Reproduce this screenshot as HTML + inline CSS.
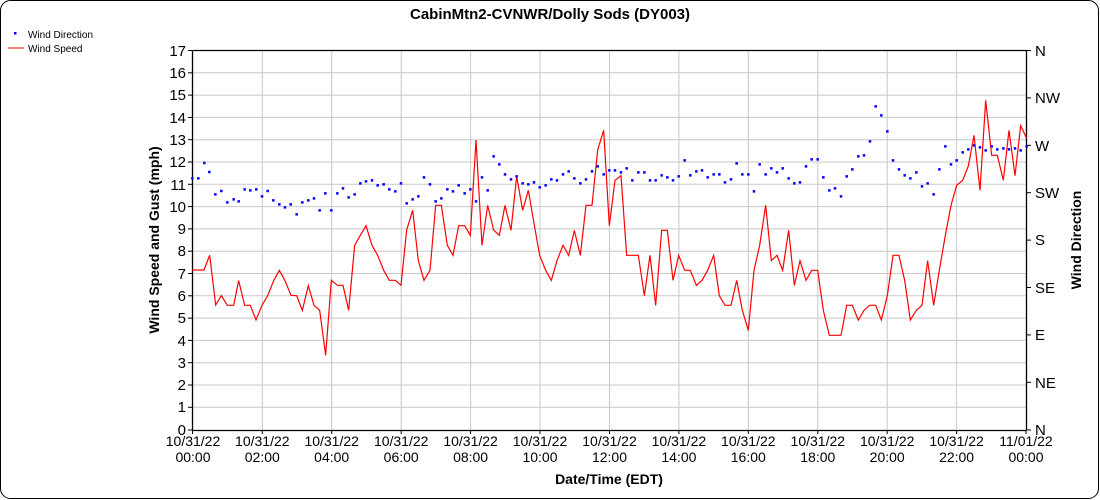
<!DOCTYPE html>
<html><head><meta charset="utf-8"><style>
html,body{margin:0;padding:0;background:#fff;}
svg{display:block;font-family:"Liberation Sans",Arial,sans-serif;}
</style></head><body>
<svg width="1100" height="500" viewBox="0 0 1100 500" xmlns="http://www.w3.org/2000/svg">
<rect x="0.5" y="0.5" width="1098" height="498" rx="10" ry="10" fill="#fff" stroke="#000" stroke-width="1"/>
<text x="550" y="19" font-size="15" font-weight="bold" text-anchor="middle">CabinMtn2-CVNWR/Dolly Sods (DY003)</text>
<!-- legend -->
<rect x="14" y="32" width="2.5" height="2.5" fill="#00f"/>
<text x="28" y="38" font-size="10">Wind Direction</text>
<line x1="8" y1="48" x2="24" y2="48" stroke="#f00" stroke-width="1"/>
<text x="28" y="52" font-size="10">Wind Speed</text>
<!-- grid -->
<g stroke="#c8c8c8" stroke-width="1">
<line x1="192" y1="72.8" x2="1026" y2="72.8"/><line x1="192" y1="95.1" x2="1026" y2="95.1"/><line x1="192" y1="117.4" x2="1026" y2="117.4"/><line x1="192" y1="139.7" x2="1026" y2="139.7"/><line x1="192" y1="162" x2="1026" y2="162"/><line x1="192" y1="184.3" x2="1026" y2="184.3"/><line x1="192" y1="206.6" x2="1026" y2="206.6"/><line x1="192" y1="228.9" x2="1026" y2="228.9"/><line x1="192" y1="251.2" x2="1026" y2="251.2"/><line x1="192" y1="273.5" x2="1026" y2="273.5"/><line x1="192" y1="295.8" x2="1026" y2="295.8"/><line x1="192" y1="318.1" x2="1026" y2="318.1"/><line x1="192" y1="340.4" x2="1026" y2="340.4"/><line x1="192" y1="362.7" x2="1026" y2="362.7"/><line x1="192" y1="385" x2="1026" y2="385"/><line x1="192" y1="407.3" x2="1026" y2="407.3"/>
<line x1="262.3" y1="50.5" x2="262.3" y2="430"/><line x1="331.7" y1="50.5" x2="331.7" y2="430"/><line x1="401.2" y1="50.5" x2="401.2" y2="430"/><line x1="470.6" y1="50.5" x2="470.6" y2="430"/><line x1="540" y1="50.5" x2="540" y2="430"/><line x1="609.5" y1="50.5" x2="609.5" y2="430"/><line x1="678.9" y1="50.5" x2="678.9" y2="430"/><line x1="748.3" y1="50.5" x2="748.3" y2="430"/><line x1="817.8" y1="50.5" x2="817.8" y2="430"/><line x1="887.2" y1="50.5" x2="887.2" y2="430"/><line x1="956.6" y1="50.5" x2="956.6" y2="430"/>
</g>
<!-- axes -->
<g stroke="#000" stroke-width="1.3" fill="none">
<line x1="192.5" y1="50.5" x2="1026.5" y2="50.5"/>
<line x1="192.5" y1="50.5" x2="192.5" y2="430.5"/>
<line x1="1026.5" y1="50.5" x2="1026.5" y2="430.5"/>
<line x1="192.5" y1="430.5" x2="1026.5" y2="430.5"/>
</g>
<g stroke="#000" stroke-width="1">
<line x1="188" y1="50.5" x2="192" y2="50.5"/><line x1="188" y1="72.8" x2="192" y2="72.8"/><line x1="188" y1="95.1" x2="192" y2="95.1"/><line x1="188" y1="117.4" x2="192" y2="117.4"/><line x1="188" y1="139.7" x2="192" y2="139.7"/><line x1="188" y1="162" x2="192" y2="162"/><line x1="188" y1="184.3" x2="192" y2="184.3"/><line x1="188" y1="206.6" x2="192" y2="206.6"/><line x1="188" y1="228.9" x2="192" y2="228.9"/><line x1="188" y1="251.2" x2="192" y2="251.2"/><line x1="188" y1="273.5" x2="192" y2="273.5"/><line x1="188" y1="295.8" x2="192" y2="295.8"/><line x1="188" y1="318.1" x2="192" y2="318.1"/><line x1="188" y1="340.4" x2="192" y2="340.4"/><line x1="188" y1="362.7" x2="192" y2="362.7"/><line x1="188" y1="385" x2="192" y2="385"/><line x1="188" y1="407.3" x2="192" y2="407.3"/><line x1="188" y1="430" x2="192" y2="430"/>
<line x1="1026" y1="50.5" x2="1031" y2="50.5"/><line x1="1026" y1="97.9" x2="1031" y2="97.9"/><line x1="1026" y1="145.3" x2="1031" y2="145.3"/><line x1="1026" y1="192.7" x2="1031" y2="192.7"/><line x1="1026" y1="240.1" x2="1031" y2="240.1"/><line x1="1026" y1="287.5" x2="1031" y2="287.5"/><line x1="1026" y1="334.9" x2="1031" y2="334.9"/><line x1="1026" y1="382.3" x2="1031" y2="382.3"/><line x1="1026" y1="430" x2="1031" y2="430"/>
<line x1="192.5" y1="430" x2="192.5" y2="434"/><line x1="262.3" y1="430" x2="262.3" y2="434"/><line x1="331.7" y1="430" x2="331.7" y2="434"/><line x1="401.2" y1="430" x2="401.2" y2="434"/><line x1="470.6" y1="430" x2="470.6" y2="434"/><line x1="540" y1="430" x2="540" y2="434"/><line x1="609.5" y1="430" x2="609.5" y2="434"/><line x1="678.9" y1="430" x2="678.9" y2="434"/><line x1="748.3" y1="430" x2="748.3" y2="434"/><line x1="817.8" y1="430" x2="817.8" y2="434"/><line x1="887.2" y1="430" x2="887.2" y2="434"/><line x1="956.6" y1="430" x2="956.6" y2="434"/><line x1="1026" y1="430" x2="1026" y2="434"/>
</g>
<g font-size="15" text-anchor="end">
<text x="186" y="56">17</text><text x="186" y="78">16</text><text x="186" y="100">15</text><text x="186" y="123">14</text><text x="186" y="145">13</text><text x="186" y="167">12</text><text x="186" y="190">11</text><text x="186" y="212">10</text><text x="186" y="234">9</text><text x="186" y="256">8</text><text x="186" y="279">7</text><text x="186" y="301">6</text><text x="186" y="323">5</text><text x="186" y="346">4</text><text x="186" y="368">3</text><text x="186" y="390">2</text><text x="186" y="412">1</text><text x="186" y="435">0</text>
</g>
<g font-size="15">
<text x="1035" y="56">N</text><text x="1035" y="103">NW</text><text x="1035" y="151">W</text><text x="1035" y="198">SW</text><text x="1035" y="245">S</text><text x="1035" y="293">SE</text><text x="1035" y="340">E</text><text x="1035" y="388">NE</text><text x="1035" y="435">N</text>
</g>
<g font-size="14" text-anchor="middle">
<text x="193" y="446">10/31/22</text><text x="193" y="462">00:00</text>
<text x="262.3" y="446">10/31/22</text><text x="262.3" y="462">02:00</text>
<text x="331.7" y="446">10/31/22</text><text x="331.7" y="462">04:00</text>
<text x="401.2" y="446">10/31/22</text><text x="401.2" y="462">06:00</text>
<text x="470.6" y="446">10/31/22</text><text x="470.6" y="462">08:00</text>
<text x="540" y="446">10/31/22</text><text x="540" y="462">10:00</text>
<text x="609.5" y="446">10/31/22</text><text x="609.5" y="462">12:00</text>
<text x="678.9" y="446">10/31/22</text><text x="678.9" y="462">14:00</text>
<text x="748.3" y="446">10/31/22</text><text x="748.3" y="462">16:00</text>
<text x="817.8" y="446">10/31/22</text><text x="817.8" y="462">18:00</text>
<text x="887.2" y="446">10/31/22</text><text x="887.2" y="462">20:00</text>
<text x="956.6" y="446">10/31/22</text><text x="956.6" y="462">22:00</text>
<text x="1026" y="446">11/01/22</text><text x="1026" y="462">00:00</text>
</g>
<text x="609" y="484" font-size="14" font-weight="bold" text-anchor="middle">Date/Time (EDT)</text>
<text transform="translate(159,240) rotate(-90)" font-size="14" font-weight="bold" text-anchor="middle">Wind Speed and Gust (mph)</text>
<text transform="translate(1081,240) rotate(-90)" font-size="14" font-weight="bold" text-anchor="middle">Wind Direction</text>
<!-- series part 1 -->
<g transform="translate(185,90) scale(0.3333333)">
<polyline fill="none" stroke="#f00" stroke-width="3.6" points="22,540 57,540 74,496 92,645 109,617 127,646 146,646 161,572 179,646 196,646 213,690 231,646 248,617 266,572 283,541 300,572 318,616 335,617 352,661 370,587 387,646 404,661 422,796 439,571 457,586 474,586 491,661 509,466 526,436 543,407 561,466 578,496 596,541 613,571 631,571 648,586 665,420 683,361 700,512 717,571 735,541 752,346 769,346 787,466 804,496 821,407 839,407 856,436 873,150 891,466 908,346 926,420 943,436 960,346 978,421 995,259 1013,361 1030,301 1047,400 1064,496 1082,541 1099,571 1116,512 1134,466 1151,496 1168,421 1186,496 1203,346 1221,346 1238,180 1256,121"/>
<g fill="#00f">
<path d="M22,265h0" /><g id="d1"></g>
</g>
</g>
<g transform="translate(600,90) scale(0.3333333)">
<polyline fill="none" stroke="#f00" stroke-width="3.6" points="11,121 28,407 45,271 63,257 80,496 115,496 133,617 150,496 167,646 185,421 202,421 219,571 236,496 254,541 271,541 289,586 306,571 323,541 341,496 358,617 375,646 393,646 410,571 427,661 445,721 462,541 479,466 497,346 514,512 531,496 548,541 566,421 583,586 600,512 618,571 635,541 653,541 670,661 688,736 723,736 740,646 757,646 775,690 792,661 809,646 827,646 844,690 862,617 879,496 897,496 914,571 931,690 949,661 966,646 983,512 1001,646 1018,541 1036,436 1053,346 1070,286 1088,271 1105,228 1122,136 1140,301 1157,31 1175,196 1192,196 1210,271 1227,121 1245,257 1262,107 1280,145"/>
</g>
<!-- direction dots -->
<g fill="none" stroke="#00f" stroke-width="7.5" stroke-linecap="square">
<path transform="translate(185,90) scale(0.3333333)" d="M22,265h0M40,265h0M58,219h0M73,246h0M91,313h0M109,303h0M127,337h0M146,328h0M161,334h0M179,298h0M196,301h0M214,298h0M231,319h0M248,303h0M265,331h0M283,343h0M300,352h0M317,343h0M335,373h0M352,337h0M370,331h0M387,325h0M404,361h0M421,310h0M439,361h0M457,310h0M474,295h0M491,322h0M509,313h0M526,280h0M543,274h0M561,271h0M578,286h0M596,283h0M613,298h0M631,304h0M648,280h0M665,340h0M683,328h0M700,319h0M717,262h0M735,283h0M752,334h0M769,325h0M787,298h0M804,304h0M821,286h0M839,310h0M856,298h0M873,334h0M891,262h0M908,301h0M926,199h0M943,223h0M960,253h0M978,268h0M995,259h0M1013,280h0M1030,283h0M1047,277h0M1064,292h0M1082,286h0M1099,268h0M1116,271h0M1134,253h0M1151,244h0M1168,265h0M1186,280h0M1203,268h0M1221,244h0M1238,229h0M1256,253h0"/>
<path transform="translate(600,90) scale(0.3333333)" d="M28,241h0M45,241h0M63,247h0M80,235h0M97,271h0M115,247h0M133,247h0M150,271h0M167,271h0M185,256h0M202,262h0M219,271h0M236,259h0M254,211h0M271,256h0M289,244h0M306,241h0M323,262h0M341,253h0M358,253h0M375,277h0M393,268h0M410,220h0M427,253h0M445,253h0M462,304h0M479,223h0M497,253h0M514,235h0M531,247h0M548,235h0M566,265h0M583,280h0M600,277h0M618,229h0M635,208h0M653,208h0M670,262h0M688,301h0M705,295h0M723,319h0M740,259h0M757,238h0M775,199h0M792,196h0M810,154h0M827,49h0M844,76h0M862,124h0M879,211h0M897,238h0M914,256h0M931,265h0M949,247h0M966,289h0M983,280h0M1001,313h0M1018,238h0M1036,169h0M1053,223h0M1070,211h0M1088,187h0M1105,178h0M1122,166h0M1140,172h0M1157,181h0M1175,169h0M1192,178h0M1210,175h0M1227,178h0M1245,175h0M1262,181h0M1280,169h0"/>
</g>
</svg>
</body></html>
